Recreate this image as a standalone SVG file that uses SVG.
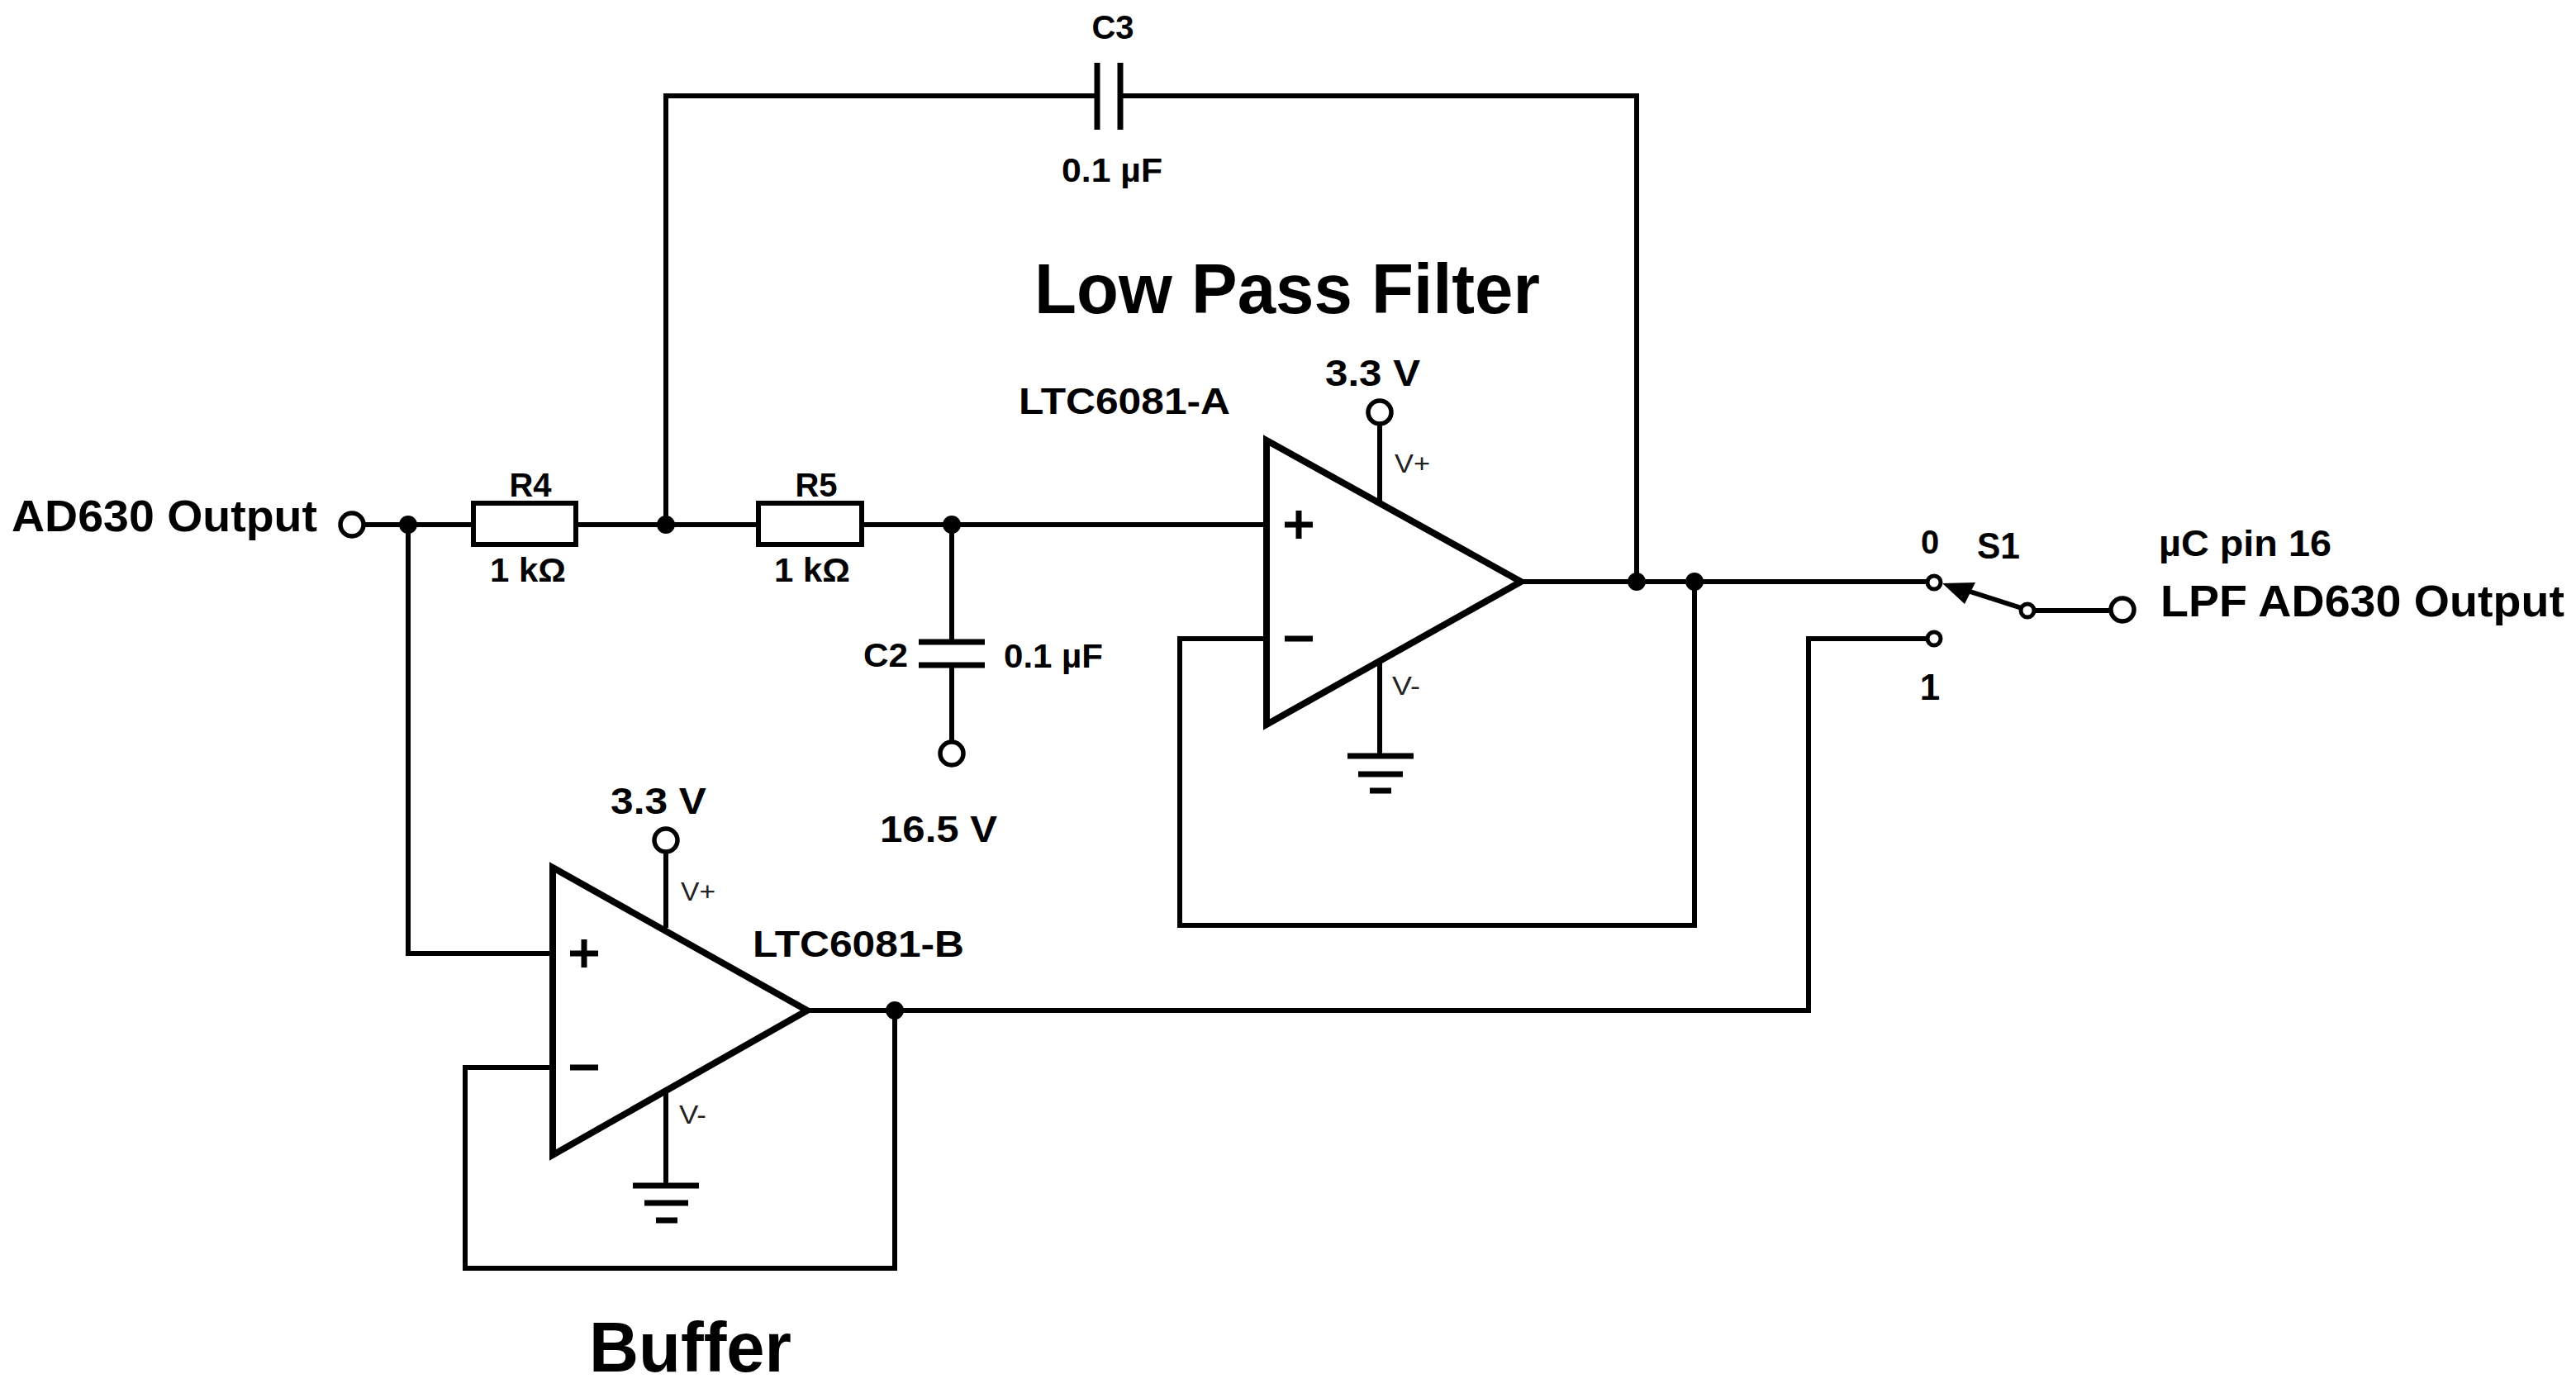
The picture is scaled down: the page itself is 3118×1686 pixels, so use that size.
<svg xmlns="http://www.w3.org/2000/svg" width="3118" height="1686" viewBox="0 0 3118 1686">
<style>
text{font-family:"Liberation Sans",Arial,sans-serif;font-weight:bold;fill:#000;font-size:40px}
.big{font-size:86px}.mid{font-size:54px}.lab{font-size:45px}.v{font-weight:normal;font-size:32px;fill:#222}
.w{fill:none;stroke:#000;stroke-width:6;stroke-linejoin:miter}
.c{fill:#fff;stroke:#000;stroke-width:5.5}
.s{fill:#fff;stroke:#000;stroke-width:5}
.d{fill:#000}
.t{fill:#fff;stroke:#000;stroke-width:8;stroke-linejoin:miter}
.r{fill:#fff;stroke:#000;stroke-width:6}
.p{fill:none;stroke:#000;stroke-width:7}
</style>
<rect width="3118" height="1686" fill="#fff"/>
<g id="connectors">
<path class="w" d="M440 635H570M696 635H915M1043 635H1533"/>
<path class="w" d="M494 635V1154H669"/>
<path class="w" d="M806 635V116H1328M1356 116H1981V704"/>
<path class="w" d="M1152 635V777M1152 805V898"/>
<path class="w" d="M1841 704H2334"/>
<path class="w" d="M2051 704V1120H1428V773H1533"/>
<path class="w" d="M977 1223H2189V773H2334"/>
<path class="w" d="M1083 1223V1535H563V1292H669"/>
<path class="w" d="M1670 512V607M1670 802V915"/>
<path class="w" d="M806 1031V1123M806 1321V1435"/>
<path class="w" d="M2460 739H2555"/>
<path class="w" d="M2447 736L2372 712"/>
</g>
<g id="opamp-a">
<polygon class="t" points="1533,533 1841,704 1533,877"/>
<path class="p" d="M1555 635H1589M1572 618V652M1555 773H1589"/>
<text class="v" x="1688" y="572" textLength="43" lengthAdjust="spacingAndGlyphs">V+</text>
<text class="v" x="1685" y="841" textLength="34" lengthAdjust="spacingAndGlyphs">V-</text>
<text class="lab" x="1233" y="501" textLength="256" lengthAdjust="spacingAndGlyphs">LTC6081-A</text>
</g>
<g id="opamp-b">
<polygon class="t" points="669,1050 977,1223 669,1398"/>
<path class="p" d="M690 1154H724M707 1137V1171M690 1292H724"/>
<text class="v" x="824" y="1090" textLength="42" lengthAdjust="spacingAndGlyphs">V+</text>
<text class="v" x="822" y="1360" textLength="33" lengthAdjust="spacingAndGlyphs">V-</text>
<text class="lab" x="911" y="1158" textLength="256" lengthAdjust="spacingAndGlyphs">LTC6081-B</text>
</g>
<g id="r4"><rect class="r" x="573" y="609" width="124" height="50"/>
<text x="642" y="601" text-anchor="middle">R4</text><text x="639" y="704" text-anchor="middle" textLength="92" lengthAdjust="spacingAndGlyphs">1 kΩ</text></g>
<g id="r5"><rect class="r" x="918" y="609" width="125" height="50"/>
<text x="988" y="601" text-anchor="middle">R5</text><text x="983" y="704" text-anchor="middle" textLength="92" lengthAdjust="spacingAndGlyphs">1 kΩ</text></g>
<g id="c3"><path class="p" d="M1328 76V157M1356 76V157"/>
<text x="1347" y="47" text-anchor="middle">C3</text><text x="1346" y="220" text-anchor="middle" textLength="122" lengthAdjust="spacingAndGlyphs">0.1 µF</text></g>
<g id="c2"><path class="p" d="M1112 777H1192M1112 805H1192"/>
<text x="1045" y="807" textLength="54" lengthAdjust="spacingAndGlyphs">C2</text><text x="1215" y="808" textLength="120" lengthAdjust="spacingAndGlyphs">0.1 µF</text></g>
<g id="gnd-a"><path class="p" d="M1631 915H1711M1644 937H1698M1658 957H1684"/></g>
<g id="gnd-b"><path class="p" d="M766 1435H846M780 1456H833M794 1477H820"/></g>
<g id="junctions">
<circle class="d" cx="494" cy="635" r="11"/><circle class="d" cx="806" cy="635" r="11"/><circle class="d" cx="1152" cy="635" r="11"/>
<circle class="d" cx="1981" cy="704" r="11"/><circle class="d" cx="2051" cy="704" r="11"/><circle class="d" cx="1083" cy="1223" r="11"/>
</g>
<g id="in-terminal"><circle class="c" cx="426" cy="635" r="14"/>
<text class="mid" x="14" y="643" textLength="370" lengthAdjust="spacingAndGlyphs">AD630 Output</text></g>
<g id="vcc-a"><circle class="c" cx="1670" cy="499" r="14"/><text class="lab" x="1604" y="467" textLength="115" lengthAdjust="spacingAndGlyphs">3.3 V</text></g>
<g id="vcc-b"><circle class="c" cx="806" cy="1017" r="14"/><text class="lab" x="739" y="985" textLength="116" lengthAdjust="spacingAndGlyphs">3.3 V</text></g>
<g id="vref"><circle class="c" cx="1152" cy="912" r="14"/><text class="lab" x="1065" y="1019" textLength="142" lengthAdjust="spacingAndGlyphs">16.5 V</text></g>
<g id="switch-s1">
<circle class="s" cx="2341" cy="705" r="8"/><circle class="s" cx="2341" cy="773" r="8"/><circle class="s" cx="2454" cy="739" r="8"/>
<polygon class="d" points="2351,706 2391,705 2378,731"/>
<text x="2336" y="670" text-anchor="middle">0</text><text x="2336" y="847" text-anchor="middle" style="font-size:44px">1</text>
<text x="2393" y="676" textLength="52" lengthAdjust="spacingAndGlyphs" style="font-size:44px">S1</text>
</g>
<g id="out-terminal"><circle class="c" cx="2569" cy="738" r="14"/>
<text x="2613" y="673" textLength="209" lengthAdjust="spacingAndGlyphs" style="font-size:44px">µC pin 16</text>
<text class="mid" x="2615" y="746" textLength="489" lengthAdjust="spacingAndGlyphs">LPF AD630 Output</text></g>
<g id="titles">
<text class="big" x="1252" y="379" textLength="612" lengthAdjust="spacingAndGlyphs">Low Pass Filter</text>
<text class="big" x="713" y="1660" textLength="245" lengthAdjust="spacingAndGlyphs">Buffer</text>
</g>
</svg>
